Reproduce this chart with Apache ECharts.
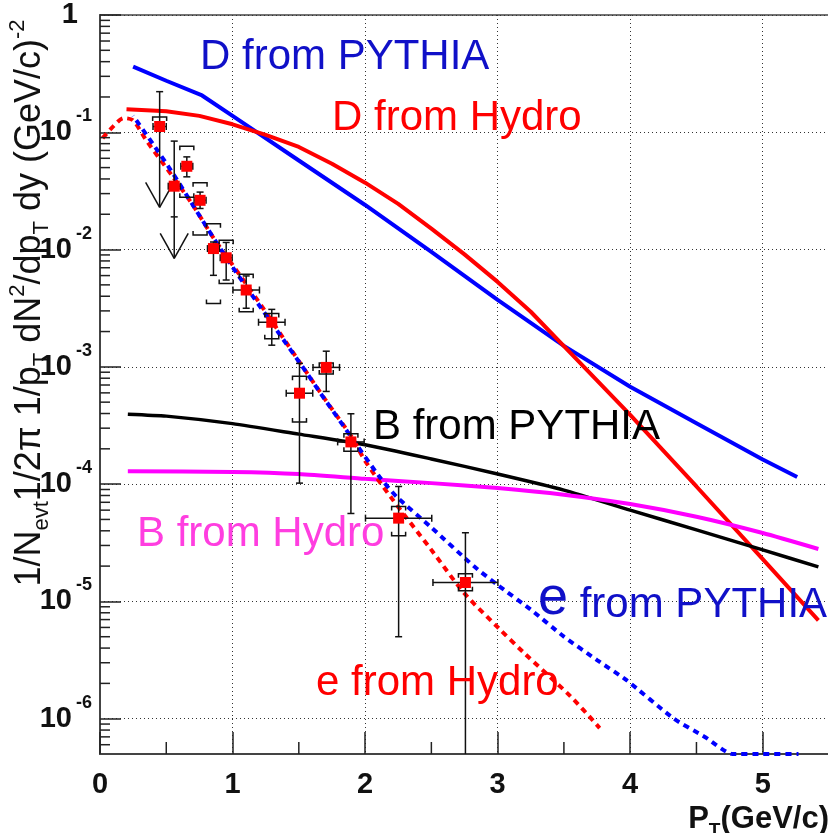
<!DOCTYPE html>
<html>
<head>
<meta charset="utf-8">
<script src="https://cdn.jsdelivr.net/npm/echarts@6/dist/echarts.min.js"></script>
<style>
html,body{margin:0;padding:0;background:#fff;}
#c{width:828px;height:833px;}
</style>
</head>
<body>
<div id="c"></div>
<script>
// ---------------- data ----------------
const Y_MIN = 5e-7;

// D from PYTHIA (blue solid)
const dPythiaX = [0.25, 0.5, 0.77, 1.0, 1.5, 2.0, 2.5, 3.0, 3.5, 4.0, 4.5, 5.0, 5.26];
const dPythiaY = [0.363, 0.275, 0.206, 0.138, 0.0575, 0.024, 9.55e-3, 3.72e-3, 1.51e-3, 6.76e-4, 3.31e-4, 1.62e-4, 1.15e-4];

// D from Hydro (red solid)
const dHydroX = [0.2, 0.5, 0.75, 1.0, 1.25, 1.5, 1.75, 2.0, 2.25, 2.5, 2.75, 3.0, 3.25, 3.5, 4.0, 4.5, 5.0, 5.42];
const dHydroY = [0.157, 0.151, 0.138, 0.117, 0.095, 0.075, 0.054, 0.0372, 0.0245, 0.0151, 9.1e-3, 5.3e-3, 2.95e-3, 1.5e-3, 3.9e-4, 9.55e-5, 2.29e-5, 6.9e-6];

// B from PYTHIA (black solid)
const bPythiaX = [0.21, 0.5, 1.0, 1.5, 2.0, 2.5, 3.0, 3.5, 4.0, 4.5, 5.0, 5.42];
const bPythiaY = [3.95e-4, 3.8e-4, 3.28e-4, 2.67e-4, 2.17e-4, 1.64e-4, 1.22e-4, 8.9e-5, 6.0e-5, 4.07e-5, 2.75e-5, 1.97e-5];

// B from Hydro (magenta solid)
const bHydroX = [0.21, 1.0, 1.5, 2.0, 2.5, 3.0, 3.5, 4.0, 4.5, 5.0, 5.42];
const bHydroY = [1.29e-4, 1.27e-4, 1.22e-4, 1.11e-4, 1.02e-4, 9.27e-5, 8.13e-5, 6.76e-5, 5.27e-5, 3.83e-5, 2.8e-5];

// e from PYTHIA (blue dashed)
const ePythiaX = [0.25, 0.4, 0.55, 0.7, 0.85, 1.0, 1.16, 1.36, 1.51, 1.71, 1.89, 2.11, 2.24, 2.49, 2.82, 3.0, 3.25, 3.5, 3.75, 3.97, 4.33, 4.57, 4.77, 5.0, 5.27];
const ePythiaY = [0.138, 0.0794, 0.0447, 0.024, 0.0129, 7.08e-3, 3.89e-3, 1.86e-3, 1.07e-3, 5.01e-4, 2.57e-4, 1.15e-4, 7.76e-5, 4.37e-5, 2.0e-5, 1.38e-5, 8.51e-6, 5.01e-6, 3.16e-6, 2.14e-6, 1.0e-6, 6.92e-7, 5e-7, 5e-7, 5e-7];

// e from Hydro (red dashed)
const eHydroX = [0.02, 0.1, 0.18, 0.25, 0.35, 0.55, 0.7, 0.85, 1.0, 1.2, 1.5, 1.7, 1.9, 2.0, 2.2, 2.5, 2.75, 3.0, 3.2, 3.55, 3.77];
const eHydroY = [0.0891, 0.1122, 0.132, 0.126, 0.0851, 0.0417, 0.024, 0.0129, 7.41e-3, 3.55e-3, 1.12e-3, 5.25e-4, 2.51e-4, 1.58e-4, 7.59e-5, 2.75e-5, 1.17e-5, 6.03e-6, 3.63e-6, 1.55e-6, 8.32e-7];

// measured points (red squares)
const ptX    = [0.45, 0.56, 0.655, 0.755, 0.856, 0.952, 1.103, 1.296, 1.505, 1.707, 1.893, 2.253, 2.757];
const ptY    = [0.112, 0.0347, 0.0513, 0.0263, 0.0102, 8.51e-3, 4.52e-3, 2.40e-3, 5.96e-4, 9.89e-4, 2.29e-4, 5.13e-5, 1.45e-5];
const ptXErr = [0.05, 0.045, 0.045, 0.045, 0.045, 0.045, 0.1, 0.1, 0.1, 0.1, 0.1, 0.25, 0.245];
const ptYHi  = [0.222, 0.0841, 0.0617, 0.0309, 0.0116, 0.0115, 5.96e-3, 3.09e-3, 1.07e-3, 1.36e-3, 3.98e-4, 9.55e-5, 3.85e-5];
const ptYLo  = [null, 0.019, 0.0417, 0.0224, 6.03e-3, 5.5e-3, 3.16e-3, 1.53e-3, 1.02e-4, 6.17e-4, 5.62e-5, 5.0e-6, 3e-7];
const ptArrow = [0.0229, 8.4e-3, null, null, null, null, null, null, null, null, null, null, null];
const sysHi  = [0.135, null, 0.0762, 0.0372, 0.0166, 0.012, 6.17e-3, 2.85e-3, 8.32e-4, 1.08e-3, 2.69e-4, 6.46e-5, 1.72e-5];
const sysLo  = [null, null, 0.0279, 0.0133, 3.47e-3, 5.13e-3, 2.95e-3, 1.74e-3, 3.39e-4, 8.71e-4, 1.91e-4, 3.63e-5, 1.23e-5];

// axis decorations
const xMinorTicks = [0.5, 1.5, 2.5, 3.5, 4.5];
const yMinorMultipliers = [2, 3, 4, 5, 6, 7, 8, 9];
const yDecades = [1e-7, 1e-6, 1e-5, 1e-4, 1e-3, 1e-2, 1e-1];

// curve labels
const labelTexts = ['D from PYTHIA', 'D from Hydro', 'B from PYTHIA', 'B from Hydro', 'e from PYTHIA', 'e from Hydro'];

// ---------------- chart ----------------
const FONT = '"Liberation Sans", Arial, Helvetica, sans-serif';
const pairs = (xs, ys) => xs.map((x, i) => [x, ys[i]]);

const minorData = [];
xMinorTicks.forEach(v => minorData.push([v, Y_MIN, 0]));
yDecades.forEach(d => yMinorMultipliers.forEach(m => {
  const v = m * d;
  if (v > Y_MIN * 1.001 && v < 1) minorData.push([0, v, 1]);
}));

function renderMinor(params, api) {
  const kind = api.value(2);
  const p = api.coord([api.value(0), api.value(1)]);
  const st = { stroke: '#222', lineWidth: 1.5 };
  if (kind === 0) {
    return { type: 'line', shape: { x1: p[0], y1: p[1], x2: p[0], y2: p[1] - 12 }, style: st };
  }
  return { type: 'line', shape: { x1: p[0], y1: p[1], x2: p[0] + 10, y2: p[1] }, style: st };
}

function renderPoint(params, api) {
  const i = params.dataIndex;
  const x = ptX[i], y = ptY[i];
  const c = api.coord([x, y]);
  const kids = [];
  const st = { stroke: '#111', lineWidth: 1.5 };
  const seg = (x1, y1, x2, y2) => kids.push({ type: 'line', shape: { x1, y1, x2, y2 }, style: st });
  const cap = 3.5;
  const xl = api.coord([x - ptXErr[i], y])[0];
  const xr = api.coord([x + ptXErr[i], y])[0];
  seg(xl, c[1], xr, c[1]);
  seg(xl, c[1] - cap, xl, c[1] + cap);
  seg(xr, c[1] - cap, xr, c[1] + cap);
  const top = api.coord([x, ptYHi[i]])[1];
  seg(c[0] - cap, top, c[0] + cap, top);
  let bottom = c[1];
  if (ptYLo[i] != null) {
    bottom = api.coord([x, ptYLo[i]])[1];
    seg(c[0] - cap, bottom, c[0] + cap, bottom);
  }
  seg(c[0], top, c[0], bottom);
  if (ptArrow[i] != null) {
    const tip = api.coord([x, ptArrow[i]])[1];
    seg(c[0], bottom, c[0], tip);
    seg(c[0] - 14, tip - 25, c[0], tip);
    seg(c[0] + 14, tip - 25, c[0], tip);
  }
  const bw = 7, bt = 4;
  if (sysHi[i] != null) {
    const yy = api.coord([x, sysHi[i]])[1];
    kids.push({ type: 'polyline', shape: { points: [[c[0] - bw, yy + bt], [c[0] - bw, yy], [c[0] + bw, yy], [c[0] + bw, yy + bt]] }, style: { stroke: '#111', lineWidth: 1.5, fill: null } });
  }
  if (sysLo[i] != null) {
    const yy = api.coord([x, sysLo[i]])[1];
    kids.push({ type: 'polyline', shape: { points: [[c[0] - bw, yy - bt], [c[0] - bw, yy], [c[0] + bw, yy], [c[0] + bw, yy - bt]] }, style: { stroke: '#111', lineWidth: 1.5, fill: null } });
  }
  kids.push({ type: 'rect', shape: { x: c[0] - 5.5, y: c[1] - 5.5, width: 11, height: 11 }, style: { fill: '#ff0000' } });
  return { type: 'group', children: kids };
}

function lineSeries(name, xs, ys, color, width, dashed, smooth, dashOffset) {
  return {
    name, type: 'line', data: pairs(xs, ys), showSymbol: false, symbol: 'none',
    smooth: smooth || false, clip: true, silent: true, z: dashed ? 3 : 2,
    lineStyle: { color, width, type: dashed ? [6, 5] : 'solid', dashOffset: dashOffset || 0, cap: 'butt' }
  };
}

function label(text, x, y, color, extra) {
  return Object.assign({
    type: 'text', x, y, silent: true, z: 100,
    style: { text, fill: color, fontSize: 42, fontFamily: FONT, align: 'left', verticalAlign: 'middle' }
  }, extra || {});
}

const chart = echarts.init(document.getElementById('c'), null, { renderer: 'canvas', width: 828, height: 833 });

const option = {
  animation: false,
  backgroundColor: '#ffffff',
  grid: { left: 100, right: -1, top: 15, bottom: 79, show: true, borderColor: '#444', borderWidth: 1.5, containLabel: false, outerBoundsMode: 'none' },
  xAxis: {
    type: 'value', min: 0, max: 5.5, interval: 1,
    axisLine: { show: true, onZero: false, lineStyle: { color: '#444', width: 2 } },
    axisTick: { show: true, inside: true, length: 22, lineStyle: { color: '#222', width: 1.5 } },
    axisLabel: { showMaxLabel: false, margin: 16, fontSize: 29, fontWeight: 'bold', color: '#111', fontFamily: FONT },
    splitLine: { show: true, lineStyle: { color: '#333', width: 1, type: [1, 3] } }
  },
  yAxis: {
    type: 'log', logBase: 10, min: Y_MIN, max: 1, splitNumber: 6,
    axisLine: { show: true, onZero: false, lineStyle: { color: '#444', width: 2 } },
    axisTick: { show: true, inside: true, length: 21, lineStyle: { color: '#222', width: 1.5 } },
    axisLabel: {
      showMinLabel: false, margin: 8, color: '#111',
      formatter: function (v) {
        const e = Math.round(Math.log10(v));
        if (e === 0) return '{one|1}';
        return '{b|10}{s|' + e + '}';
      },
      rich: {
        one: { fontSize: 29, fontWeight: 'bold', fontFamily: FONT, color: '#111', padding: [0, 14, 0, 0] },
        b: { fontSize: 29, fontWeight: 'bold', fontFamily: FONT, color: '#111' },
        s: { fontSize: 18, fontWeight: 'bold', fontFamily: FONT, color: '#111', verticalAlign: 'top', padding: [0, 0, 32, 4] }
      }
    },
    splitLine: { show: true, lineStyle: { color: '#333', width: 1, type: [1, 3] } }
  },
  graphic: [
    label(labelTexts[0], 200, 57, '#1010c8'),
    label(labelTexts[1], 332, 118, '#ff0000'),
    label(labelTexts[2], 373, 427, '#000000'),
    label(labelTexts[3], 137, 534, '#ff3ee0'),
    {
      type: 'text', x: 538, y: 599, silent: true, z: 100,
      style: {
        text: '{big|e}{n| from PYTHIA}', fill: '#1010c8', align: 'left', verticalAlign: 'middle',
        rich: {
          big: { fontSize: 54, fontFamily: FONT, color: '#1010c8', verticalAlign: 'bottom' },
          n: { fontSize: 42, fontFamily: FONT, color: '#1010c8', verticalAlign: 'bottom' }
        }
      }
    },
    label(labelTexts[5], 316, 683, '#ff0000'),
    {
      type: 'text', x: 829, y: 819, silent: true, z: 100,
      style: {
        text: '{a|P}{t|T}{a|(GeV/c)}', fill: '#111', align: 'right', verticalAlign: 'middle',
        rich: {
          a: { fontSize: 31, fontWeight: 'bold', fontFamily: FONT, color: '#111' },
          t: { fontSize: 19, fontWeight: 'bold', fontFamily: FONT, color: '#111', verticalAlign: 'top', padding: [23, 0, 0, 0] }
        }
      }
    },
    {
      type: 'text', x: 30, y: 303, rotation: Math.PI / 2, silent: true, z: 100,
      style: {
        text: '{m|1/N}{sub|evt}{m|1/2\u03c0 1/p}{sub|T}{m| dN}{sup|2}{m|/dp}{sub|T}{m| dy (GeV/c)}{sup|-2}',
        fill: '#111', align: 'center', verticalAlign: 'middle',
        rich: {
          m: { fontSize: 36, fontFamily: FONT, color: '#111' },
          sub: { fontSize: 22, fontFamily: FONT, color: '#111', verticalAlign: 'top', padding: [24, 0, 0, 0] },
          sup: { fontSize: 22, fontFamily: FONT, color: '#111', verticalAlign: 'top', padding: [0, 0, 24, 0] }
        }
      }
    }
  ],
  series: [
    {
      name: 'minor ticks', type: 'custom', renderItem: renderMinor, data: minorData,
      encode: { x: 0, y: 1 }, clip: false, silent: true, z: 5
    },
    lineSeries('D from PYTHIA', dPythiaX, dPythiaY, '#0000ff', 4, false, false),
    lineSeries('D from Hydro', dHydroX, dHydroY, '#ff0000', 4, false, false),
    lineSeries('B from PYTHIA', bPythiaX, bPythiaY, '#000000', 3.5, false, 0.2),
    lineSeries('B from Hydro', bHydroX, bHydroY, '#ff00ff', 4, false, 0.2),
    lineSeries('e from Hydro', eHydroX, eHydroY, '#ff0000', 4, true, 0.3, 0),
    lineSeries('e from PYTHIA', ePythiaX, ePythiaY, '#0000ff', 4, true, 0.2, 5.5),
    {
      name: 'data', type: 'custom', renderItem: renderPoint,
      data: pairs(ptX, ptY), encode: { x: 0, y: 1 }, clip: true, silent: true, z: 10
    }
  ]
};
chart.setOption(option);
</script>
</body>
</html>
